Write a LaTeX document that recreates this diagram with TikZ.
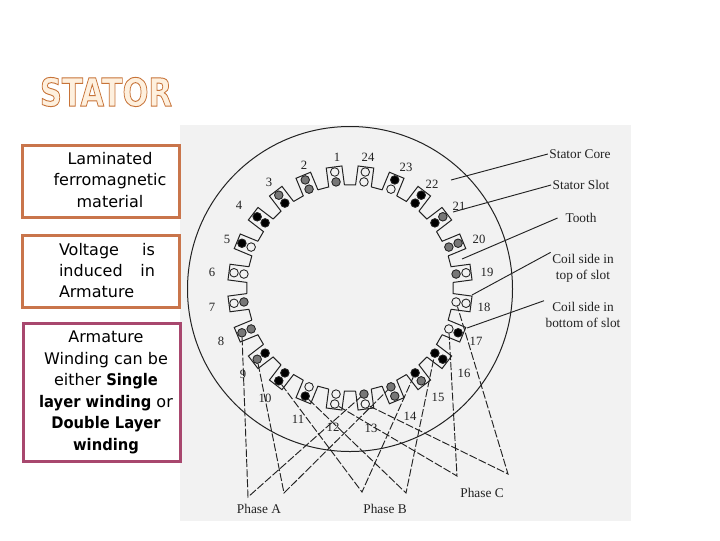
\documentclass[tikz,border=0pt]{standalone}
\usepackage{fontspec}
\setmainfont{DejaVu Sans}
\newfontfamily\figfont{Liberation Serif}
\definecolor{statorbg}{HTML}{F2F2F2}
\definecolor{coilgray}{HTML}{777777}
\definecolor{boxorange}{HTML}{C9754B}
\definecolor{boxrose}{HTML}{A8476E}
\definecolor{titlefill}{HTML}{FEF0DE}
\definecolor{inkgray}{HTML}{222222}
\newcommand{\outlinetext}[1]{\special{pdf:code 0.78 0.45 0.22 RG 0.7 w 2 Tr}#1\special{pdf:code 0 Tr}}
\newcommand{\tightbf}[1]{\scalebox{.92}[1]{\textbf{#1}}}
\tikzset{
  notebox/.style={draw=#1,line width=2.25pt,fill=white},
  notetext/.style={align=center,inner sep=0pt,font=\fontsize{12}{16.1}\selectfont},
  coil/.style={circle,draw=inkgray,line width=.65pt,minimum size=6.4pt,inner sep=0pt},
  slotnum/.style={inner sep=0pt,text=inkgray,font=\figfont\fontsize{9.5}{11}\selectfont},
  figlabel/.style={inner sep=1pt,align=center,text=inkgray,font=\figfont\fontsize{10}{12}\selectfont},
  leader/.style={draw=inkgray,line width=.7pt},
  phasewire/.style={draw=inkgray,line width=.7pt,dash pattern=on 6pt off 1.6pt}
}
\begin{document}
\begin{tikzpicture}[x=.75pt,y=-.75pt]
\useasboundingbox (0,0) rectangle (720,540);
\fill[white] (0,0) rectangle (720,540);
\fill[statorbg] (180,125) rectangle (631,521);
\draw[notebox=boxorange] (22.5,145.5) rectangle (179.5,217.5);
\draw[notebox=boxorange] (22.5,235.5) rectangle (179.5,307.5);
\draw[notebox=boxrose] (23.5,323.5) rectangle (180.5,461.5);
\node[inner sep=0pt] (title) at (106,92) {\color{titlefill}\fontsize{29}{30}\selectfont\scalebox{.79}[1]{\outlinetext{\textbf{STATOR}}}};
\node[notetext] (lamnote) at (110,180) {Laminated\\ferromagnetic\\material};
\node[notetext] (voltnote) at (107,270.5) {\makebox[72pt][s]{Voltage\hfill is}\\\makebox[72pt][s]{induced\hfill in}\\\makebox[72pt][l]{Armature}};
\node[notetext] (windnote) at (106,392.5) {Armature\\Winding can be\\either \tightbf{Single}\\\tightbf{layer winding} or\\\tightbf{Double Layer}\\\tightbf{winding}};
\draw[inkgray,line width=.75pt] (350,289) circle (162.5);
\begin{scope}[shift={(350,288)}]
\foreach \k/\outc/\inc in {1/statorbg/coilgray,2/coilgray/coilgray,3/coilgray/black,4/black/black,5/black/statorbg,6/statorbg/statorbg,7/statorbg/coilgray,8/coilgray/coilgray,9/coilgray/black,10/black/black,11/black/statorbg,12/statorbg/statorbg,13/statorbg/coilgray,14/coilgray/coilgray,15/coilgray/black,16/black/black,17/black/statorbg,18/statorbg/statorbg,19/statorbg/coilgray,20/coilgray/coilgray,21/coilgray/black,22/black/black,23/black/statorbg,24/statorbg/statorbg}{
\pgfmathsetmacro{\ang}{-97.5-15*(\k-1)}
\draw[inkgray,line width=.75pt] (\ang+4.4:103.3) -- (\ang+3.7:122.3) -- (\ang-3.7:122.3) -- (\ang-4.4:103.3) -- (\ang-10.6:103.3);
\node[coil,fill=\outc] (o\k) at (\ang:117) {};
\node[coil,fill=\inc] (i\k) at (\ang:107) {};
}
\end{scope}
\coordinate (pa1) at (248,497);
\coordinate (pa2) at (284,493);
\coordinate (pb1) at (362,492);
\coordinate (pb2) at (406,493);
\coordinate (pc1) at (457,476);
\coordinate (pc2) at (508,474);
\draw[phasewire] (o8) -- (pa1) -- (i13);
\draw[phasewire] (o9) -- (pa2) -- (i14);
\draw[phasewire] (o10) -- (pb1) -- (i15);
\draw[phasewire] (o11) -- (pb2) -- (i16);
\draw[phasewire] (o12) -- (pc1) -- (i17);
\draw[phasewire] (o13) -- (pc2) -- (i18);
\foreach \k/\px/\py in {1/337/157,2/304/165,3/269/182,4/239/205,5/227/239,6/212/272,7/212/307,8/221/341,9/243/374,10/265/398,11/298/419,12/333/427,13/371/428,14/410/416,15/438/397,16/464/373,17/476/341,18/484/307,19/487/272,20/479/239,21/459/206,22/432/184,23/406/167,24/368/157}{
\node[slotnum] (n\k) at (\px,\py) {\k};
}
\node[figlabel] (corelbl) at (580,154) {Stator Core};
\node[figlabel] (slotlbl) at (581,185) {Stator Slot};
\node[figlabel,outer sep=5pt] (toothlbl) at (581,218) {Tooth};
\node[figlabel] (toplbl) at (583,268) {Coil side in\\top of slot};
\node[figlabel] (botlbl) at (583,315) {Coil side in\\bottom of slot};
\node[figlabel] (phasea) at (259,509) {Phase A};
\node[figlabel] (phaseb) at (385,509) {Phase B};
\node[figlabel] (phasec) at (482,493) {Phase C};
\coordinate (coretip) at (451,180);
\coordinate (slottip) at (453,212);
\coordinate (toothtip) at (462,259);
\coordinate (toptip) at (472,295);
\coordinate (bottip) at (467,328);
\draw[leader] (coretip) -- (corelbl.west);
\draw[leader] (slottip) -- (slotlbl.west);
\draw[leader] (toothtip) -- (toothlbl.west);
\draw[leader] (toptip) -- (toplbl.north west);
\draw[leader] (bottip) -- (botlbl.north west);
\end{tikzpicture}
\end{document}
